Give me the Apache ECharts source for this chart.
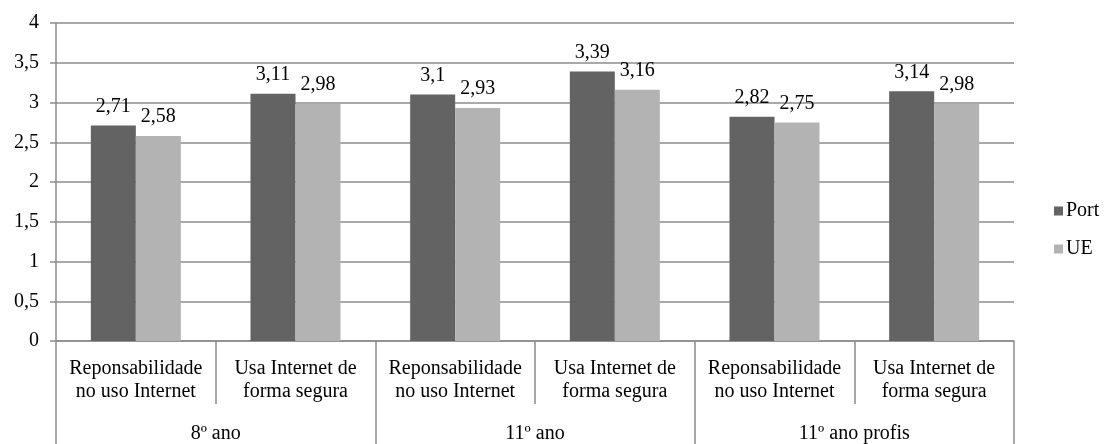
<!DOCTYPE html>
<html>
<head>
<meta charset="utf-8">
<script src="https://cdn.jsdelivr.net/npm/echarts@6/dist/echarts.min.js"></script>
<style>
  html, body { margin: 0; padding: 0; background: #fff; }
  #chart { width: 1104px; height: 444px; }
</style>
</head>
<body>
<div id="chart"></div>
<script>
// Indicator categories (inner axis) and school-year groups (outer axis)
const categories = [
  'Reponsabilidade\nno uso Internet', 'Usa Internet de\nforma segura',
  'Reponsabilidade\nno uso Internet', 'Usa Internet de\nforma segura',
  'Reponsabilidade\nno uso Internet', 'Usa Internet de\nforma segura'
];
const groups = ['8º ano', '11º ano', '11º ano profis'];
const portValues = [2.71, 3.11, 3.1, 3.39, 2.82, 3.14];
const ueValues = [2.58, 2.98, 2.93, 3.16, 2.75, 2.98];
const seriesNames = ['Port', 'UE'];

const FONT = "'Liberation Serif', 'DejaVu Serif', serif";
const FS = 20;
const GRID_COLOR = '#8c8c8c';
const comma = v => String(v).replace('.', ',');

const chart = echarts.init(document.getElementById('chart'));
chart.setOption({
  animation: false,
  textStyle: { fontFamily: FONT, color: '#000' },
  grid: { left: 56, right: 90, top: 23, bottom: 100, containLabel: false },
  legend: {
    orient: 'vertical',
    left: 1049,
    top: 196,
    itemWidth: 9,
    itemHeight: 9,
    itemGap: 18,
    icon: 'rect',
    textStyle: { fontFamily: FONT, fontSize: FS, color: '#000', padding: [0, 0, 0, -2] },
    data: seriesNames
  },
  xAxis: [
    {
      type: 'category',
      data: categories,
      position: 'bottom',
      axisLine: { show: true, lineStyle: { color: GRID_COLOR, width: 1.5 } },
      axisTick: { show: true, interval: 0, length: 63, lineStyle: { color: GRID_COLOR, width: 1.5 } },
      axisLabel: {
        interval: 0, margin: 16, fontFamily: FONT, fontSize: FS,
        lineHeight: 23, color: '#000', align: 'center'
      }
    },
    {
      type: 'category',
      data: groups,
      position: 'bottom',
      gridIndex: 0,
      axisLine: { show: false },
      axisTick: { show: true, interval: 0, length: 110, lineStyle: { color: GRID_COLOR, width: 1.5 } },
      axisLabel: { interval: 0, margin: 83, fontFamily: FONT, fontSize: FS, color: '#000' }
    }
  ],
  yAxis: {
    type: 'value',
    min: 0,
    max: 4,
    interval: 0.5,
    axisLine: { show: true, lineStyle: { color: GRID_COLOR, width: 1.5 } },
    axisTick: { show: true, length: 6, lineStyle: { color: GRID_COLOR, width: 1.5 } },
    splitLine: { show: true, lineStyle: { color: GRID_COLOR, width: 1.5 } },
    axisLabel: { margin: 17, fontFamily: FONT, fontSize: FS, color: '#000', formatter: comma }
  },
  series: [
    {
      name: seriesNames[0],
      type: 'bar',
      data: portValues,
      barWidth: 45,
      barGap: '0%',
      itemStyle: { color: '#636363' },
      label: { show: true, position: 'top', distance: 9, fontFamily: FONT, fontSize: FS, color: '#000', formatter: p => comma(p.value) }
    },
    {
      name: seriesNames[1],
      type: 'bar',
      data: ueValues,
      barWidth: 45,
      barGap: '0%',
      itemStyle: { color: '#b3b3b3' },
      label: { show: true, position: 'top', distance: 9, fontFamily: FONT, fontSize: FS, color: '#000', formatter: p => comma(p.value) }
    }
  ]
});
</script>
</body>
</html>
